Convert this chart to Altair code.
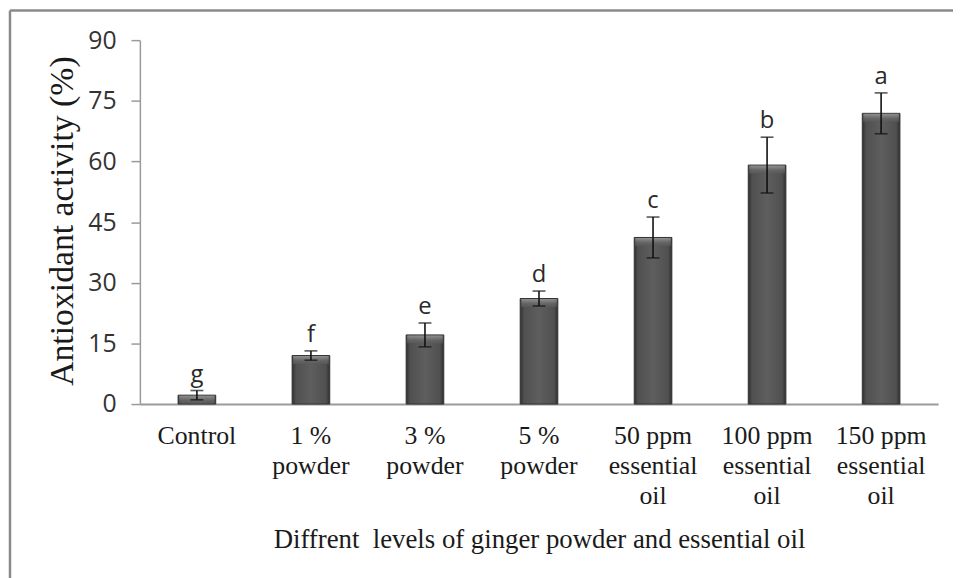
import altair as alt
import pandas as pd

categories = ["Control", "1 %\npowder", "3 %\npowder", "5 %\npowder",
              "50 ppm\nessential\noil", "100 ppm\nessential\noil", "150 ppm\nessential\noil"]
means = [2.2, 12.0, 17.1, 26.1, 41.2, 59.1, 71.9]
errs = [1.15, 1.15, 2.95, 1.85, 5.05, 6.9, 5.05]
letters = ["g", "f", "e", "d", "c", "b", "a"]
y_ticks = [0, 15, 30, 45, 60, 75, 90]

df = pd.DataFrame({"cat": categories, "mean": means, "err": errs, "letter": letters})
df["lo"] = df["mean"] - df["err"]
df["hi"] = df["mean"] + df["err"]

# one row per printed line of each category label
line_rows = []
for c in categories:
    for i, part in enumerate(c.split("\n")):
        line_rows.append({"cat": c, "line": i, "text": part})
lines_df = pd.DataFrame(line_rows)

x_scale = alt.Scale(domain=categories, paddingInner=0.67, paddingOuter=0.335)

x_enc = alt.X(
    "cat:N", sort=categories, scale=x_scale,
    axis=alt.Axis(
        title="Diffrent\u00a0 levels of ginger powder and essential oil",
        labels=False, ticks=False, tickSize=0,
        domainColor="#9a9a9a", domainWidth=2,
        titleFont="Liberation Serif", titleFontSize=27, titleFontWeight="normal",
        titleColor="#1a1a1a", titleY=145, titleBaseline="alphabetic",
    ),
)

y_scale = alt.Scale(domain=[0, 90], nice=False)

bar_fill = alt.Gradient(
    gradient="linear", x1=0, x2=1, y1=0, y2=0,
    stops=[alt.GradientStop(color="#2e2e2e", offset=0),
           alt.GradientStop(color="#505050", offset=0.1),
           alt.GradientStop(color="#5e5e5e", offset=0.5),
           alt.GradientStop(color="#505050", offset=0.9),
           alt.GradientStop(color="#2e2e2e", offset=1)],
)
bevel_fill = alt.Gradient(
    gradient="linear", x1=0, x2=0, y1=0, y2=1,
    stops=[alt.GradientStop(color="#a8a8a8", offset=0),
           alt.GradientStop(color="#6a6a6a", offset=0.6),
           alt.GradientStop(color="#5a5a5a", offset=1)],
)

base = alt.Chart(df)
xs = alt.X("cat:N", sort=categories, scale=x_scale)

bars = base.mark_bar(color=bar_fill, stroke="#333333", strokeWidth=1).encode(
    x=x_enc,
    y=alt.Y("mean:Q", scale=y_scale, axis=alt.Axis(
        title="Antioxidant activity (%)", values=y_ticks, grid=False,
        labelFont="Open Sans", labelFontSize=25, labelColor="#333333",
        tickSize=9, tickColor="#9a9a9a", tickWidth=1.5, labelPadding=15,
        domainColor="#9a9a9a", domainWidth=1.5,
        titleFont="Liberation Serif", titleFontSize=34, titleFontWeight="normal",
        titleColor="#1a1a1a", titleAngle=-90, titleX=-68, titleY=182,
        titleBaseline="alphabetic", titleAlign="center",
    )),
)

bevel = base.mark_tick(color=bevel_fill, size=36, thickness=8, yOffset=4.5).encode(
    x=xs,
    y=alt.Y("mean:Q", scale=y_scale),
)

err_rule = base.mark_rule(color="#111111", strokeWidth=1.6).encode(
    x=xs,
    y=alt.Y("lo:Q", scale=y_scale),
    y2="hi:Q",
)
cap_lo = base.mark_tick(color="#111111", size=13, thickness=1.6).encode(
    x=xs, y=alt.Y("lo:Q", scale=y_scale),
)
cap_hi = base.mark_tick(color="#111111", size=13, thickness=1.6).encode(
    x=xs, y=alt.Y("hi:Q", scale=y_scale),
)

letters_txt = base.mark_text(font="Open Sans", fontSize=24, color="#2a2a2a",
                             baseline="alphabetic", dy=-9).encode(
    x=xs,
    y=alt.Y("hi:Q", scale=y_scale),
    text="letter:N",
)

label_layers = []
for i in range(3):
    label_layers.append(
        alt.Chart(lines_df).transform_filter(alt.datum.line == i).mark_text(
            font="Liberation Serif", fontSize=26, color="#1a1a1a",
            baseline="alphabetic", align="center",
        ).encode(x=xs, y=alt.value(407 + 30.5 * i), text="text:N")
    )

frame_df = pd.DataFrame({"k": [0]})
frame_left = alt.Chart(frame_df).mark_rule(color="#8a8a8a", strokeWidth=2.5).encode(
    x=alt.value(-131), y=alt.value(-30), y2=alt.value(600))
frame_top = alt.Chart(frame_df).mark_rule(color="#8a8a8a", strokeWidth=2.5).encode(
    x=alt.value(-131), x2=alt.value(900), y=alt.value(-30))

chart = alt.layer(bars, bevel, err_rule, cap_lo, cap_hi, letters_txt, *label_layers,
                  frame_left, frame_top).properties(
    width=805, height=367,
    autosize="none",
    padding={"left": 133, "top": 30, "right": 15, "bottom": 173},
    background="white",
).configure_view(stroke=None)

chart.save("out.html", embed_options={"renderer": "svg", "actions": False})
